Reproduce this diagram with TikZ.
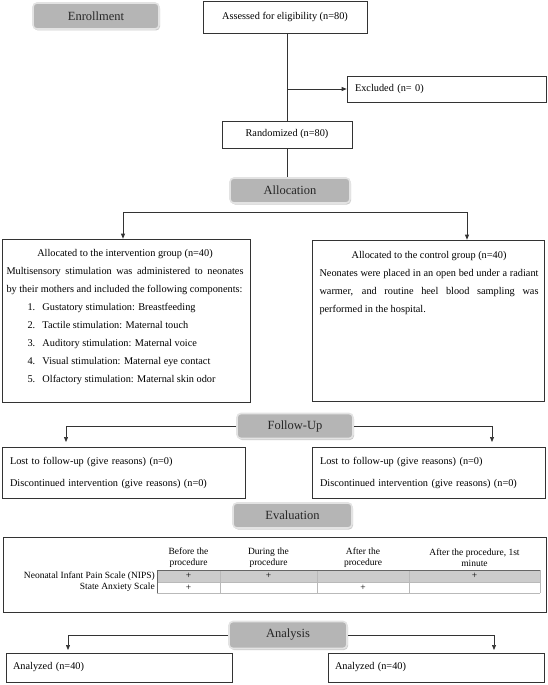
\documentclass[tikz,border=0pt]{standalone}
\usepackage{fontspec}
\setmainfont{Liberation Serif}
\usetikzlibrary{arrows.meta,shadows,calc}
\begin{document}
\begin{tikzpicture}[x=1pt,y=-1pt,
 box/.style={draw=black!80, line width=0.7pt, inner sep=0pt, font=\fontsize{10.3}{12}\selectfont},
 lbox/.style={box, align=left, inner xsep=8pt, font=\fontsize{10.3}{22}\selectfont},
 hdr/.style={draw=gray!22, line width=1.6pt, fill=gray!58, rounded corners=4pt, inner sep=0pt,
   font=\fontsize{12.5}{14}\selectfont, text=black!85,
   drop shadow={shadow xshift=1pt, shadow yshift=-1.5pt, fill=gray!50, opacity=0.8}},
 conn/.style={draw=black!80, line width=0.7pt},
 arr/.style={conn, -{Triangle[length=5pt,width=4pt]}},
 txt/.style={inner sep=0pt, align=center, font=\fontsize{10.3}{18}\selectfont},
 tbl/.style={inner sep=0pt, align=center, font=\fontsize{9.5}{11}\selectfont},
 tline/.style={draw=gray!55, line width=0.5pt}
]
\useasboundingbox (0,0) rectangle (547,685);

% Enrollment
\node[hdr, minimum width=126pt, minimum height=26pt] (enroll) at (96,16) {Enrollment};
\node[box, minimum width=164pt, minimum height=32pt] (assess) at (285,17) {Assessed for eligibility (n=80)};
\node[lbox, text width=183pt, minimum height=26pt] (excl) at (446.5,89) {Excluded (n= 0)};
\node[box, minimum width=130pt, minimum height=27pt] (rand) at (287,134.5) {Randomized (n=80)};
\coordinate (ex) at (rand.north |- excl.west);
\draw[conn] (rand.north) -- (rand.north |- assess.south);
\draw[arr] (ex) -- (excl.west);

% Allocation
\node[hdr, minimum width=120pt, minimum height=25pt] (alloc) at (290,190.5) {Allocation};
\draw[conn] (rand.south) -- (rand.south |- alloc.north);
\node[box, minimum width=248pt, minimum height=163pt] (intv) at (126,320.5) {};
\node[box, minimum width=232pt, minimum height=161pt] (ctrl) at (428,320.5) {};
\coordinate (splitL) at (123,212);
\coordinate (splitR) at (467,212);
\draw[conn] (splitL) -- (splitR);
\draw[arr] (splitL) -- (splitL |- intv.north);
\draw[arr] (splitR) -- (splitR |- ctrl.north);

\node[txt, anchor=north] (intvtext) at (125,249) {%
Allocated to the intervention group (n=40)\\
\makebox[237pt][s]{Multisensory stimulation was administered to neonates}\\
\makebox[237pt][l]{by their mothers and included the following components:}\\
\makebox[237pt][l]{\hspace{21pt}\makebox[15pt][l]{1.}Gustatory stimulation: Breastfeeding}\\
\makebox[237pt][l]{\hspace{21pt}\makebox[15pt][l]{2.}Tactile stimulation: Maternal touch}\\
\makebox[237pt][l]{\hspace{21pt}\makebox[15pt][l]{3.}Auditory stimulation: Maternal voice}\\
\makebox[237pt][l]{\hspace{21pt}\makebox[15pt][l]{4.}Visual stimulation: Maternal eye contact}\\
\makebox[237pt][l]{\hspace{21pt}\makebox[15pt][l]{5.}Olfactory stimulation: Maternal skin odor}};

\node[txt, anchor=north] (ctrltext) at (429,251) {%
Allocated to the control group (n=40)\\
\makebox[219pt][s]{Neonates were placed in an open bed under a radiant}\\
\makebox[219pt][s]{warmer, and routine heel blood sampling was}\\
\makebox[219pt][l]{performed in the hospital.}};

% Follow-Up
\node[hdr, minimum width=116pt, minimum height=25pt] (follow) at (295,426) {Follow-Up};
\node[lbox, text width=227pt, minimum height=51pt] (lostL) at (123.5,472.5) {Lost to follow-up (give reasons) (n=0)\\Discontinued intervention (give reasons) (n=0)};
\node[lbox, text width=217pt, minimum height=51pt] (lostR) at (428.5,472.5) {Lost to follow-up (give reasons) (n=0)\\Discontinued intervention (give reasons) (n=0)};
\coordinate (fl) at (66,442);
\coordinate (fr) at (492,442);
\draw[arr] (follow.west) -| (fl);
\draw[arr] (follow.east) -| (fr);

% Evaluation
\node[hdr, minimum width=119pt, minimum height=25pt] (eval) at (292.5,515.5) {Evaluation};
\node[box, minimum width=543pt, minimum height=75pt] (table) at (274.5,574.5) {};
\fill[gray!40] (157,570) rectangle (540,582);
\draw[tline] (157,582) -- (540,582) (157,593) -- (540,593);
\foreach \xx in {220,317,409,540} {\draw[tline] (\xx,570) -- (\xx,593);}
\draw[draw=black!60, line width=0.6pt] (157,570) -- (540,570) (157,570) -- (157,593);
\node[tbl] (h1) at (188.5,557.5) {Before the\\procedure};
\node[tbl] (h2) at (268.5,557.5) {During the\\procedure};
\node[tbl] (h3) at (363,557.5) {After the\\procedure};
\node[tbl] (h4) at (474.5,557.5) {After the procedure, 1st\\minute};
\node[tbl, anchor=east] (r1) at (155,576) {Neonatal Infant Pain Scale (NIPS)};
\node[tbl, anchor=east] (r2) at (155,587.5) {State Anxiety Scale};
\node[tbl] (p11) at (188.5,576) {+};
\node[tbl] (p12) at (268.5,576) {+};
\node[tbl] (p14) at (474.5,576) {+};
\node[tbl] (p21) at (188.5,587.5) {+};
\node[tbl] (p23) at (363,587.5) {+};

% Analysis
\node[hdr, minimum width=118pt, minimum height=27pt] (analysis) at (288,635) {Analysis};
\node[lbox, inner xsep=7pt, text width=212pt, minimum height=29pt] (anaL) at (119,667.5) {Analyzed (n=40)};
\node[lbox, inner xsep=7pt, text width=202pt, minimum height=29pt] (anaR) at (436,667.5) {Analyzed (n=40)};
\coordinate (al) at (68,650);
\coordinate (ar) at (494,650);
\draw[arr] (analysis.west) -| (al);
\draw[arr] (analysis.east) -| (ar);
\end{tikzpicture}
\end{document}
